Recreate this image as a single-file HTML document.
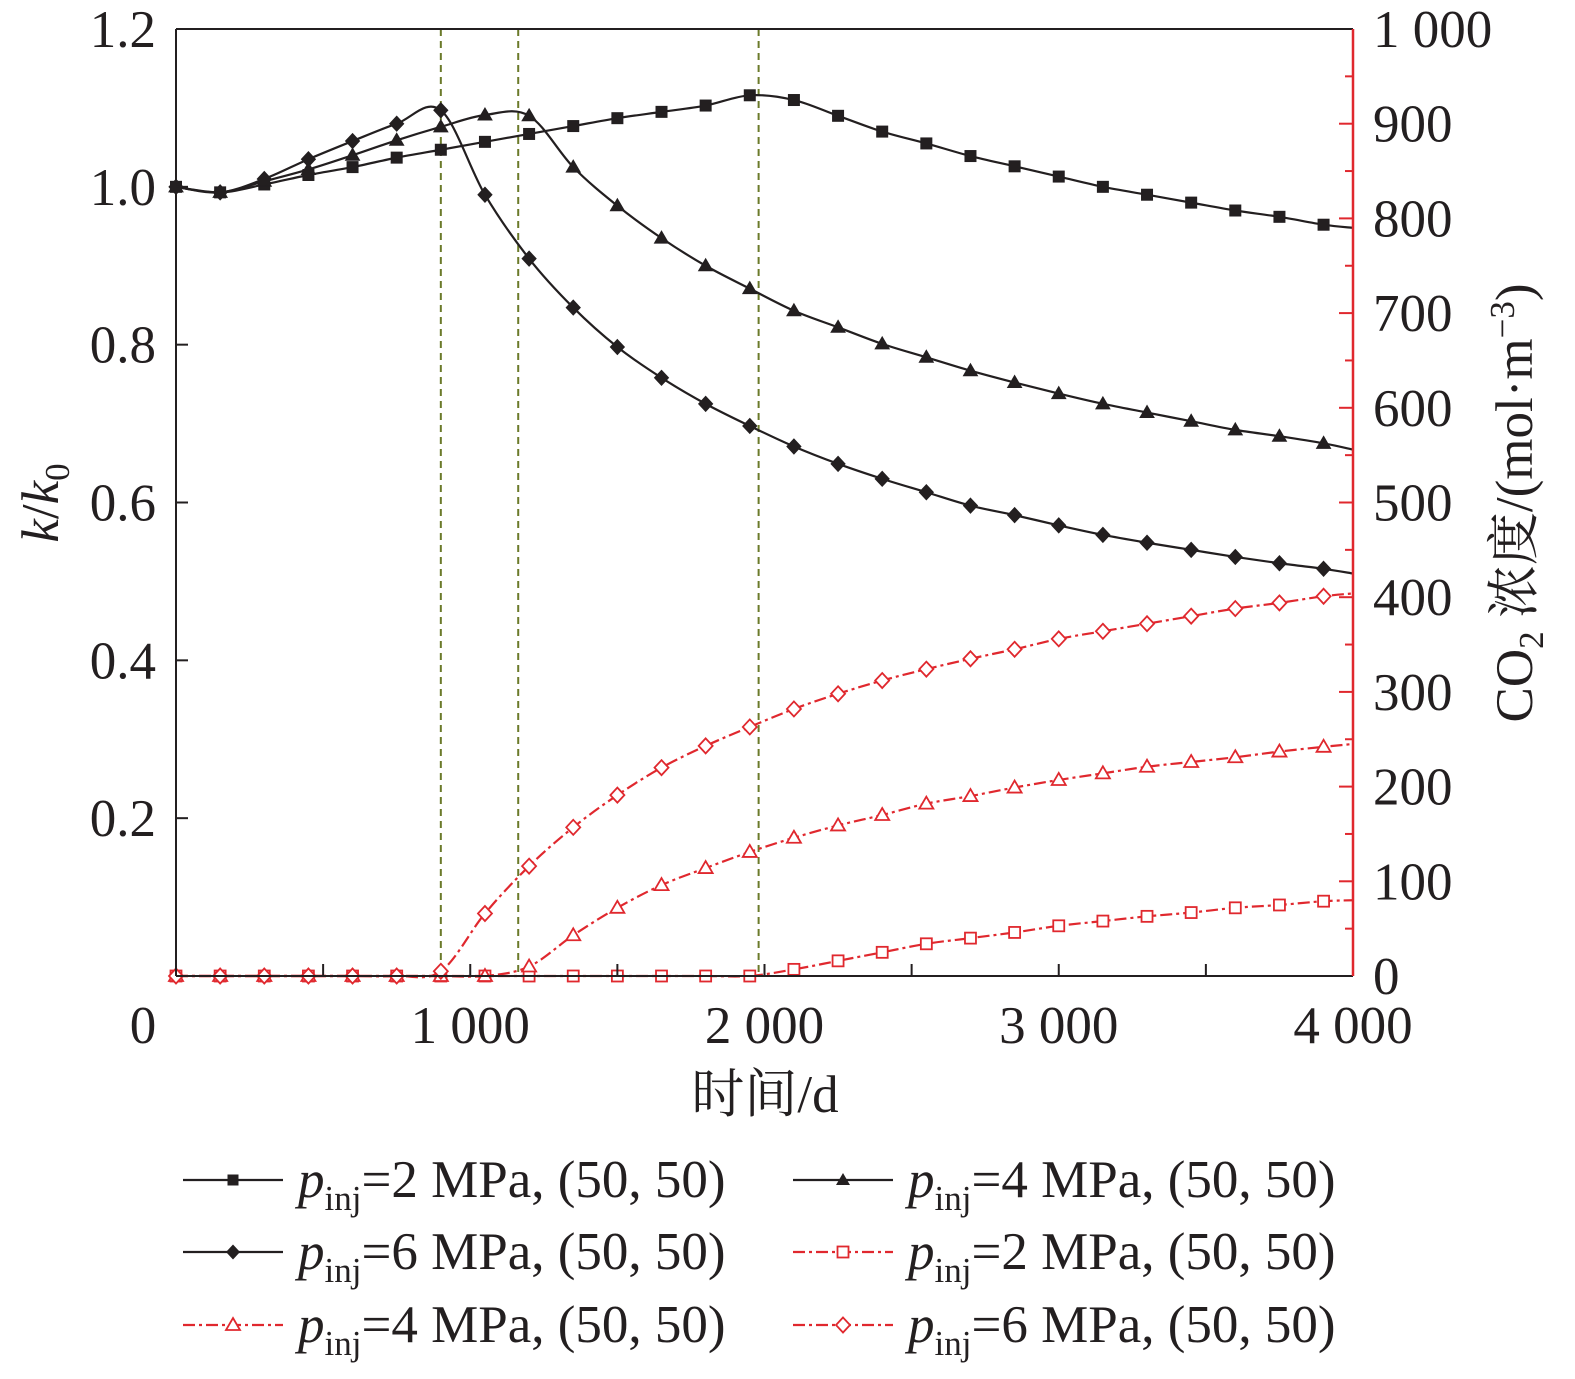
<!DOCTYPE html>
<html><head><meta charset="utf-8"><style>
body{margin:0;background:#fff;}
svg text{font-family:"Liberation Serif","Noto Serif CJK SC",serif;}
</style></head><body>
<svg id="chart" width="1575" height="1374" xmlns="http://www.w3.org/2000/svg">
<g id="grid"></g>
<g id="series"></g>
<g id="axes"></g>
<g id="legend"></g>
</svg>
<script>
const times=[0,150,300,450,600,750,900,1050,1200,1350,1500,1650,1800,1950,2100,2250,2400,2550,2700,2850,3000,3150,3300,3450,3600,3750,3900];
const k2=[1.0,0.993,1.003,1.015,1.025,1.037,1.047,1.057,1.067,1.077,1.087,1.095,1.103,1.116,1.11,1.09,1.07,1.055,1.039,1.026,1.013,1.0,0.99,0.98,0.97,0.962,0.952];
const k4=[1.0,0.993,1.007,1.022,1.04,1.059,1.076,1.091,1.09,1.025,0.976,0.935,0.9,0.871,0.843,0.822,0.801,0.784,0.767,0.752,0.738,0.725,0.714,0.703,0.692,0.684,0.675];
const k6=[1.0,0.993,1.01,1.035,1.058,1.08,1.097,0.99,0.909,0.847,0.797,0.758,0.725,0.697,0.671,0.649,0.63,0.613,0.596,0.584,0.571,0.559,0.549,0.54,0.531,0.523,0.516];
const c2=[0,0,0,0,0,0,0,0,0,0,0,0,0,0,7,16,25,34,40,46,53,58,63,67,72,75,79];
const c4=[0,0,0,0,0,0,0,0,10,43,72,96,114,131,146,159,170,182,190,199,207,214,221,226,231,237,242];
const c6=[0,0,0,0,0,0,5,66,116,157,191,220,243,263,282,298,312,324,335,345,356,364,372,380,388,394,401];
const endK=[0.948,0.667,0.51];
const endC=[80,245,404];
const xTicks=[0,1000,2000,3000,4000];
const xTickLabels=["0","1 000","2 000","3 000","4 000"];
const yTicks=[0.2,0.4,0.6,0.8,1.0,1.2];
const yTickLabels=["0.2","0.4","0.6","0.8","1.0","1.2"];
const rTicks=[0,100,200,300,400,500,600,700,800,900,1000];
const rTickLabels=["0","100","200","300","400","500","600","700","800","900","1 000"];
const vlines=[900,1163,1980];

const L=176,R=1353,T=29,B=976;
const FS=53;
const X=t=>L+(R-L)*t/4000;
const Y=v=>B-(B-T)*v/1.2;
const YR=v=>B-(B-T)*v/1000;
const NS="http://www.w3.org/2000/svg";
function el(tag,attrs,parent){const e=document.createElementNS(NS,tag);for(const k in attrs)e.setAttribute(k,attrs[k]);parent.appendChild(e);return e;}
function path(pts){let d=`M${pts[0][0]},${pts[0][1]}`;for(let i=0;i<pts.length-1;i++){const p0=pts[Math.max(0,i-1)],p1=pts[i],p2=pts[i+1],p3=pts[Math.min(pts.length-1,i+2)];d+=` C${p1[0]+(p2[0]-p0[0])/6},${p1[1]+(p2[1]-p0[1])/6} ${p2[0]-(p3[0]-p1[0])/6},${p2[1]-(p3[1]-p1[1])/6} ${p2[0]},${p2[1]}`;}return d;}
function marker(g,type,x,y,col,fill){
 if(type==='sq') return el('rect',{x:x-5.5,y:y-5.5,width:11,height:11,fill:fill?col:'#fff',stroke:col,'stroke-width':fill?1:1.8},g);
 if(type==='tri') return el('polygon',{points:`${x},${y-7} ${x+7},${y+5} ${x-7},${y+5}`,fill:fill?col:'#fff',stroke:col,'stroke-width':fill?1:1.8},g);
 return el('polygon',{points:`${x},${y-7.5} ${x+7},${y} ${x},${y+7.5} ${x-7},${y}`,fill:fill?col:'#fff',stroke:col,'stroke-width':fill?1:1.8},g);
}
const sg=document.getElementById('series');
const grid=document.getElementById('grid');
vlines.forEach(v=>{const l=el('line',{x1:X(v),x2:X(v),y1:T,y2:B,stroke:'#6b7a2a','stroke-width':2,'stroke-dasharray':'7,5'},grid);

});
const defs=[
 {d:k2,e:endK[0],f:Y,m:'sq',c:'#231f20',fill:true,dash:null,n:'k-2mpa'},
 {d:k4,e:endK[1],f:Y,m:'tri',c:'#231f20',fill:true,dash:null,n:'k-4mpa'},
 {d:k6,e:endK[2],f:Y,m:'dia',c:'#231f20',fill:true,dash:null,n:'k-6mpa'},
 {d:c2,e:endC[0],f:YR,m:'sq',c:'#e0282e',fill:false,dash:'12,4,3,4',n:'co2-2mpa'},
 {d:c4,e:endC[1],f:YR,m:'tri',c:'#e0282e',fill:false,dash:'12,4,3,4',n:'co2-4mpa'},
 {d:c6,e:endC[2],f:YR,m:'dia',c:'#e0282e',fill:false,dash:'12,4,3,4',n:'co2-6mpa'}];
defs.forEach(s=>{
 const g=el('g',{},sg);
 
 
 const pts=times.map((t,i)=>[X(t),s.f(s.d[i])]);pts.push([X(4000),s.f(s.e)]);
 const p=el('path',{d:path(pts),fill:'none',stroke:s.c,'stroke-width':2.2},g);
 if(s.dash)p.setAttribute('stroke-dasharray',s.dash);
 
 
 times.forEach((t,i)=>{const m=marker(g,s.m,X(t),s.f(s.d[i]),s.c,s.fill);
 
 });
});
const ax=document.getElementById('axes');
el('line',{x1:L,x2:L,y1:T,y2:B,stroke:'#231f20','stroke-width':2},ax);
el('line',{x1:L,x2:R,y1:T,y2:T,stroke:'#231f20','stroke-width':2},ax);
el('line',{x1:L,x2:R,y1:B,y2:B,stroke:'#231f20','stroke-width':2},ax);
el('line',{x1:R,x2:R,y1:T,y2:B,stroke:'#e0282e','stroke-width':2.5},ax);
for(let t=500;t<4000;t+=500){el('line',{x1:X(t),x2:X(t),y1:B,y2:B-12,stroke:'#231f20','stroke-width':2},ax);}
xTicks.forEach((t,i)=>{const tx=el('text',{x:i==0?X(t)-33:X(t),y:1043,'font-size':FS,'text-anchor':'middle',fill:'#231f20'},ax);tx.textContent=xTickLabels[i];

});
yTicks.forEach((v,i)=>{el('line',{x1:L,x2:L+12,y1:Y(v),y2:Y(v),stroke:'#231f20','stroke-width':2},ax);
 const tx=el('text',{x:156,y:Y(v)+18,'font-size':FS,'text-anchor':'end',fill:'#231f20'},ax);tx.textContent=yTickLabels[i];
 
 });
for(let v=50;v<1000;v+=50){el('line',{x1:R,x2:R-(v%100==0?14:8),y1:YR(v),y2:YR(v),stroke:'#e0282e','stroke-width':2},ax);}
rTicks.forEach((v,i)=>{const tx=el('text',{x:1373,y:YR(v)+18,'font-size':FS,fill:'#231f20'},ax);tx.textContent=rTickLabels[i];
 
 });
</script>
<svg style="position:absolute;left:0;top:0" width="1575" height="1374" xmlns="http://www.w3.org/2000/svg">
<style>text{font-family:"Liberation Serif","Noto Serif CJK SC",serif;fill:#231f20;}</style>
<text x="765" y="1112" font-size="53" text-anchor="middle">时间/d</text>
<text transform="translate(58,503) rotate(-90)" font-size="53" text-anchor="middle"><tspan font-style="italic">k</tspan>/<tspan font-style="italic">k</tspan><tspan font-size="35" dy="11">0</tspan></text>
<text transform="translate(1532,503) rotate(-90)" font-size="53" text-anchor="middle">CO<tspan font-size="35" dy="11">2</tspan><tspan dy="-11"> 浓度/(mol·m</tspan><tspan font-size="35" dy="-18">−3</tspan><tspan dy="18">)</tspan></text>
<g font-size="53">
 <g><line x1="183" x2="283" y1="1180" y2="1180" stroke="#231f20" stroke-width="2.2"/><rect x="227.5" y="1174.5" width="11" height="11" fill="#231f20"/><text x="298" y="1197"><tspan font-style="italic">p</tspan><tspan font-size="35" dy="13">inj</tspan><tspan dy="-13">=2 MPa, (50, 50)</tspan></text></g>
 <g><line x1="793" x2="893" y1="1180" y2="1180" stroke="#231f20" stroke-width="2.2"/><polygon points="843,1173 850,1185 836,1185" fill="#231f20"/><text x="908" y="1197"><tspan font-style="italic">p</tspan><tspan font-size="35" dy="13">inj</tspan><tspan dy="-13">=4 MPa, (50, 50)</tspan></text></g>
 <g><line x1="183" x2="283" y1="1252" y2="1252" stroke="#231f20" stroke-width="2.2"/><polygon points="233,1244.5 240,1252 233,1259.5 226,1252" fill="#231f20"/><text x="298" y="1269"><tspan font-style="italic">p</tspan><tspan font-size="35" dy="13">inj</tspan><tspan dy="-13">=6 MPa, (50, 50)</tspan></text></g>
 <g><line x1="793" x2="893" y1="1252" y2="1252" stroke="#e0282e" stroke-width="2.2" stroke-dasharray="12,4,3,4"/><rect x="837.5" y="1246.5" width="11" height="11" fill="#fff" stroke="#e0282e" stroke-width="1.8"/><text x="908" y="1269"><tspan font-style="italic">p</tspan><tspan font-size="35" dy="13">inj</tspan><tspan dy="-13">=2 MPa, (50, 50)</tspan></text></g>
 <g><line x1="183" x2="283" y1="1325" y2="1325" stroke="#e0282e" stroke-width="2.2" stroke-dasharray="12,4,3,4"/><polygon points="233,1318 240,1330 226,1330" fill="#fff" stroke="#e0282e" stroke-width="1.8"/><text x="298" y="1342"><tspan font-style="italic">p</tspan><tspan font-size="35" dy="13">inj</tspan><tspan dy="-13">=4 MPa, (50, 50)</tspan></text></g>
 <g><line x1="793" x2="893" y1="1325" y2="1325" stroke="#e0282e" stroke-width="2.2" stroke-dasharray="12,4,3,4"/><polygon points="843,1317.5 850,1325 843,1332.5 836,1325" fill="#fff" stroke="#e0282e" stroke-width="1.8"/><text x="908" y="1342"><tspan font-style="italic">p</tspan><tspan font-size="35" dy="13">inj</tspan><tspan dy="-13">=6 MPa, (50, 50)</tspan></text></g>
</g>
</svg>
</body></html>
